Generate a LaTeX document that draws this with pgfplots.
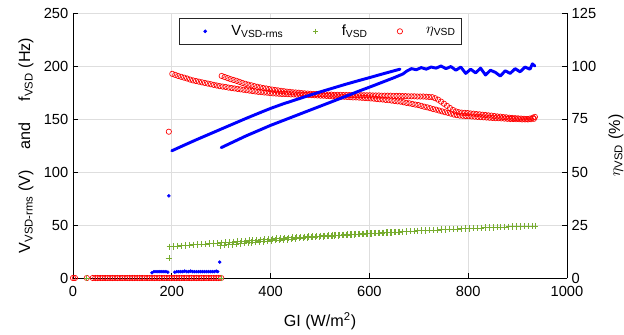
\documentclass[border=0pt]{standalone}
\usepackage{pgfplots}
\pgfplotsset{compat=1.18}
\usepackage{fontspec}
\setmainfont{Liberation Sans}
\definecolor{mgreen}{rgb}{0.466,0.674,0.188}
\definecolor{gridc}{rgb}{0.87,0.87,0.87}
\pgfplotsset{
  base/.style={
    scale only axis, width=370.5pt, height=198.75pt,
    xmin=0, xmax=1000,
    at={(0,0)}, anchor=south west,
    /pgf/number format/assume math mode=true,
    /pgf/number format/1000 sep={},
    tick label style={font=\fontsize{11}{13}\selectfont},
    label style={font=\fontsize{12.1}{14}\selectfont},
    tick align=inside, major tick length=3.7pt,
    axis line style={line width=0.5pt, black, -},
    tick style={line width=0.5pt, black},
    scaled ticks=false,
  },
  wideleg/.style={legend image code/.code={\path[draw=none,fill=none] (0cm,0cm) -- (1.24cm,0cm); \draw[##1] plot coordinates {(0.62cm,0cm)};}}
}
\begin{document}
\begin{tikzpicture}
% frame, grid, left axis
\begin{axis}[base, ymin=0, ymax=250, ytick={0,50,...,250}, xtick={0,200,...,1000},
  axis x line*=bottom, axis y line*=left, xtick pos=bottom, ytick pos=left,
  xticklabel style={yshift=-3pt},
  xmajorgrids, ymajorgrids, grid style={gridc, line width=0.5pt},
  xlabel={GI (W/m\textsuperscript{2})},
  xlabel style={at={(axis description cs:0.5,-0.162)}, anchor=center},
  ylabel={V\textsubscript{VSD-rms} (V)\hspace{1.3em}and\hspace{1.3em}f\textsubscript{VSD} (Hz)},
  ylabel style={at={(axis description cs:-0.0951,0.5)}, anchor=center}]
\addplot[draw=none, forget plot] coordinates {(500,100)};
\end{axis}
% right axis: efficiency
\begin{axis}[base, ymin=0, ymax=125, ytick={0,25,...,125},
  axis x line=none, axis y line*=right, ytick pos=right, yticklabel pos=right,
  ylabel={$\eta$\textsubscript{VSD} (\%)},
  ylabel style={at={(axis description cs:1.099,0.5)}, anchor=center},
  clip=false]
\addplot[only marks, mark=o, mark size=2pt, red, line width=0.5pt, forget plot] coordinates {
(0,0) (4,0) (28,0) (40,0) (45,0) (50,0) (55,0) (60,0) (65,0) (70,0) (75,0) (80,0) (85,0) (90,0) (95,0) (100,0) (105,0) (110,0) (115,0) (120,0) (125,0) (130,0) (135,0) (140,0) (145,0) (150,0) (155,0) (160,0) (165,0) (170,0) (175,0) (180,0) (185,0) (190,0) (195,0) (200,0) (205,0) (210,0) (215,0) (220,0) (225,0) (230,0) (235,0) (240,0) (245,0) (250,0) (255,0) (260,0) (265,0) (270,0) (275,0) (280,0) (285,0) (290,0) (295,0) (300,0)
(194,69)
};
% branch A
\addplot[only marks, mark=o, mark size=2pt, red, line width=0.5pt, forget plot] coordinates {
(201,96.3) (207,95.8) (213,95.3) (219,94.9) (225,94.5) (231,94.1) (237,93.6) (243,93.2) (249,92.9) (255,92.6) (261,92.3) (267,92.0) (273,91.7) (279,91.4) (285,91.1) (291,90.8) (297,90.5) (303,90.3) (309,90.1) (315,89.8) (321,89.6) (327,89.4) (333,89.2) (339,89.0) (345,88.8) (351,88.6) (357,88.4) (363,88.2) (369,88.0) (375,87.8) (381,87.7) (387,87.5) (393,87.4) (399,87.2) (405,87.1) (411,87.0) (417,86.9) (423,86.8) (429,86.8) (435,86.7) (441,86.6) (447,86.6) (453,86.5) (459,86.5) (465,86.4) (471,86.4) (477,86.3) (483,86.3) (489,86.2) (495,86.1) (501,86.0) (507,86.0) (513,85.9) (519,85.8) (525,85.7) (531,85.7) (537,85.6) (543,85.5) (549,85.5) (555,85.4) (561,85.3) (567,85.2) (573,85.2) (579,85.1) (585,85.0) (591,84.9) (597,84.8) (603,84.7) (609,84.6) (615,84.4) (621,84.3) (627,84.2) (633,84.0) (639,83.9) (645,83.7) (651,83.5) (657,83.3) (663,83.2) (669,82.9) (675,82.6) (681,82.4) (687,82.1) (693,81.8) (699,81.6) (705,81.2) (711,80.8) (717,80.5) (723,80.1) (729,79.7) (735,79.4) (741,79.0) (747,78.6) (753,78.2) (759,77.9) (765,77.5) (771,77.1) (777,76.8) (783,76.6) (789,76.5) (795,76.4) (801,76.3) (807,76.2) (813,76.1) (819,76.0) (825,75.9) (831,75.8) (837,75.7) (843,75.6) (849,75.5) (855,75.4) (861,75.4) (867,75.3) (873,75.2) (879,75.1) (885,75.0) (891,75.0) (897,74.9) (903,74.9) (909,74.8) (915,74.8) (921,74.8) (927,74.9) (933,75.1)
};
% branch B
\addplot[only marks, mark=o, mark size=2pt, red, line width=0.5pt, forget plot] coordinates {
(301,95.3) (307,94.8) (313,94.3) (319,93.8) (325,93.4) (331,93.0) (337,92.5) (343,92.0) (349,91.6) (355,91.2) (361,90.9) (367,90.5) (373,90.2) (379,89.9) (385,89.6) (391,89.4) (397,89.1) (403,88.9) (409,88.7) (415,88.5) (421,88.3) (427,88.1) (433,87.9) (439,87.8) (445,87.6) (451,87.5) (457,87.4) (463,87.2) (469,87.1) (475,87.0) (481,86.9) (487,86.8) (493,86.8) (499,86.7) (505,86.6) (511,86.6) (517,86.5) (523,86.5) (529,86.4) (535,86.4) (541,86.4) (547,86.3) (553,86.3) (559,86.3) (565,86.3) (571,86.3) (577,86.3) (583,86.2) (589,86.2) (595,86.2) (601,86.2) (607,86.1) (613,86.1) (619,86.1) (625,86.0) (631,86.0) (637,86.0) (643,86.0) (649,85.9) (655,85.9) (661,85.9) (667,85.8) (673,85.8) (679,85.7) (685,85.7) (691,85.7) (697,85.6) (703,85.6) (709,85.6) (715,85.5) (721,85.4) (727,85.3) (733,84.8) (739,84.1) (745,83.2) (751,82.2) (757,81.2) (763,80.2) (769,79.3) (775,78.6) (781,78.2) (787,78.0) (793,77.9) (799,77.8) (805,77.6) (811,77.5) (817,77.3) (823,77.2) (829,77.0) (835,76.9) (841,76.7) (847,76.6) (853,76.4) (859,76.2) (865,76.1) (871,75.9) (877,75.8) (883,75.6) (889,75.5) (895,75.4) (901,75.3) (907,75.2) (913,75.1) (919,75.0) (925,75.2) (931,75.6) (935,76.0)
};
\end{axis}
% data on left scale
\begin{axis}[base, ymin=0, ymax=250, hide axis, clip=false,
  legend columns=3,
  legend style={at={(axis description cs:0.5,0.981)}, anchor=north, draw=black!85, line width=0.5pt, fill=white,
    inner xsep=2pt, inner ysep=3pt, font=\fontsize{11}{13}\selectfont,
    /tikz/every even column/.append style={column sep=4.5pt}}]
\addlegendimage{only marks, mark=*, mark size=1.1pt, blue, wideleg}
\addlegendentry{V\textsubscript{VSD-rms}}
\addlegendimage{only marks, mark=+, mark size=2pt, mgreen, line width=0.5pt, wideleg}
\addlegendentry{f\textsubscript{VSD}}
\addlegendimage{only marks, mark=o, mark size=2pt, red, line width=0.5pt, wideleg}
\addlegendentry{$\eta$\textsubscript{VSD}}
% blue low-level dots and outliers
\addplot[only marks, mark=*, mark size=1.1pt, blue, forget plot] coordinates {
(160,5) (164,6) (168,6) (172,6) (176,6) (180,6) (184,6) (188,6) (192,5.5)
(206,5.5) (210,6) (214,6) (218,6) (222,6) (226,6.5) (230,6) (234,6) (238,6.5) (242,6) (246,6) (250,6) (254,6) (258,6) (262,6) (266,6) (270,6) (274,6) (278,6) (282,6) (286,6) (290,6.5) (293,6)
(194,77.5) (297,15)
};
% blue series 1
\addplot[blue, line width=2.2pt, line cap=round, line join=round, forget plot] coordinates {
(200,120) (225,125.3) (250,130.5) (275,135.5) (300,140.5) (325,145.5) (350,150.5) (375,155.3) (400,160) (425,164.2) (450,168) (475,171.8) (500,175.5) (525,179) (550,182.5) (575,185.8) (600,189) (625,192.3) (650,195.5) (662,197)
};
% blue series 2
\addplot[blue, line width=2.2pt, line cap=round, line join=round, forget plot] coordinates {
(300,123) (325,128.5) (350,134) (375,139) (400,144) (425,148.5) (450,153) (475,157.5) (500,162) (525,166.5) (550,171) (577,176) (600,180) (625,184.5) (650,189) (668,192.5) (675,195) (685,197.5) (695,196.5) (705,198.5) (715,197) (725,199) (735,198) (745,200) (755,197.5) (765,199.5) (775,196) (785,199) (795,193) (805,197) (815,193.5) (825,198) (835,191.5) (845,196) (855,194) (865,190.5) (875,195.5) (885,193) (895,197.5) (905,194.5) (915,199) (925,197) (930,202) (935,200)
};
% green
\addplot[only marks, mark=+, mark size=2.4pt, mgreen, line width=0.5pt, forget plot] coordinates {
(28,0) (300,0) (194,18.6)
(196,29.5) (204,29.8) (212,30.1) (220,30.4) (228,30.7) (236,31.0) (244,31.3) (252,31.6) (260,31.9) (268,32.2) (276,32.4) (284,32.7) (292,33.0) (300,33.2) (308,33.5) (316,33.8) (324,34.1) (332,34.4) (340,34.7) (348,35.0) (356,35.2) (364,35.5) (372,35.8) (380,36.1) (388,36.4) (396,36.7) (404,36.9) (412,37.2) (420,37.4) (428,37.7) (436,37.9) (444,38.1) (452,38.4) (460,38.6) (468,38.8) (476,39.0) (484,39.2) (492,39.4) (500,39.6) (508,39.8) (516,40.0) (524,40.2) (532,40.4) (540,40.6) (548,40.8) (556,41.0) (564,41.2) (572,41.4) (580,41.5) (588,41.7) (596,41.9) (604,42.1) (612,42.3) (620,42.5) (628,42.7) (636,42.9) (644,43.1) (652,43.3) (660,43.5)
(298,30.5) (306,30.9) (314,31.3) (322,31.7) (330,32.0) (338,32.4) (346,32.8) (354,33.2) (362,33.5) (370,33.9) (378,34.2) (386,34.6) (394,34.9) (402,35.3) (410,35.6) (418,35.9) (426,36.2) (434,36.5) (442,36.9) (450,37.2) (458,37.5) (466,37.8) (474,38.1) (482,38.4) (490,38.6) (498,38.9) (506,39.2) (514,39.4) (522,39.7) (530,40.0) (538,40.2) (546,40.5) (554,40.7) (562,41.0) (570,41.2) (578,41.4) (586,41.6) (594,41.8) (602,42.0) (610,42.2) (618,42.4) (626,42.6) (634,42.8) (642,43.0) (650,43.2) (658,43.4) (666,43.6) (674,43.8) (682,44.1) (690,44.3) (698,44.5) (706,44.7) (714,44.9) (722,45.1) (730,45.3) (738,45.4) (746,45.6) (754,45.8) (762,46.0) (770,46.1) (778,46.3) (786,46.5) (794,46.7) (802,46.8) (810,47.0) (818,47.2) (826,47.3) (834,47.5) (842,47.7) (850,47.8) (858,47.9) (866,48.1) (874,48.2) (882,48.3) (890,48.4) (898,48.6) (906,48.7) (914,48.8) (922,48.9) (930,49.1) (935,49.2)
};
\end{axis}
\pgfresetboundingbox
\path[use as bounding box] (-54.75pt,-42.75pt) rectangle (413.25pt,208.5pt);
\end{tikzpicture}
\end{document}
